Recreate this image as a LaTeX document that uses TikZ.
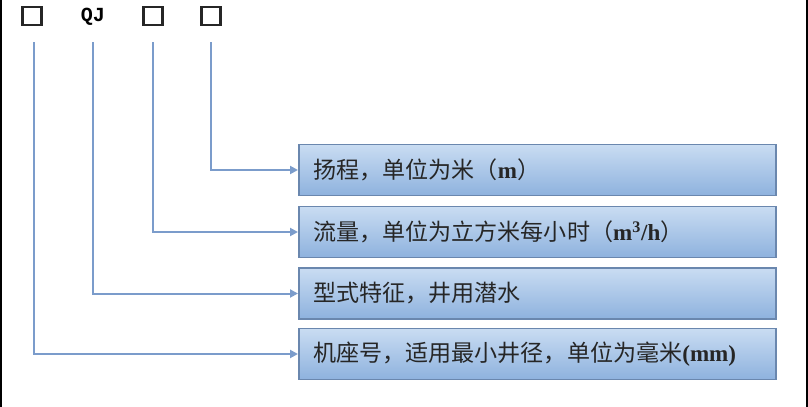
\documentclass[tikz,border=0pt]{standalone}
\usepackage{fontspec}
\setmainfont{Liberation Serif}
\newfontfamily\cjk{Noto Sans CJK SC}
\newfontfamily\codefont{Liberation Mono}
\usetikzlibrary{arrows.meta}
\definecolor{linec}{HTML}{7B9CCB}
\definecolor{boxtop}{HTML}{C9DCF2}
\definecolor{boxbot}{HTML}{8EB2DE}
\definecolor{boxedge}{HTML}{6A87AE}
\definecolor{txt}{HTML}{262626}
\newcommand{\latinb}[1]{{\rmfamily\bfseries #1}}
\tikzset{
  descbox/.style={draw=boxedge, line width=1.2pt, top color=boxtop, bottom color=boxbot,
    minimum width=358pt, minimum height=38pt, anchor=west, inner sep=0pt},
  desctext/.style={anchor=west, inner sep=0pt, text=txt, font=\cjk\fontsize{17.3pt}{19pt}\selectfont},
  conn/.style={draw=linec, line width=1.5pt, -{Triangle[length=6pt,width=6pt]}},
  code/.style={font=\codefont\fontsize{15pt}{16pt}\selectfont\bfseries, inner sep=0pt},
  sq/.style={draw=black!85, line width=1.8pt, minimum width=14.5pt, minimum height=13.5pt, inner sep=0pt}
}
\begin{document}
\begin{tikzpicture}[x=0.75pt,y=-0.75pt]
\useasboundingbox (0,0) rectangle (808,407);
\fill[white] (0,0) rectangle (808,407);
\draw[black, line width=1.5pt] (1,0) -- (1,407);
\draw[black, line width=1.5pt] (806.5,0) -- (806.5,407);
% top code
\node[sq] (s1) at (32,16) {};
\node[code] (qj) at (93,17) {QJ};
\node[sq] (s3) at (153,16) {};
\node[sq] (s4) at (211,16) {};
\coordinate (c1) at (34,42);
\coordinate (c2) at (93,42);
\coordinate (c3) at (153,42);
\coordinate (c4) at (211,42);
% boxes
\node[descbox] (b1) at (298,170) {};
\node[descbox] (b2) at (298,232) {};
\node[descbox] (b3) at (298,293.5) {};
\node[descbox] (b4) at (298,354) {};
\node[desctext] (t1) at (313,170) {扬程，单位为米（\latinb{m}）};
\node[desctext] (t2) at (313,232) {流量，单位为立方米每小时（\latinb{m\textsuperscript{3}/h}）};
\node[desctext] (t3) at (313,293.5) {型式特征，井用潜水};
\node[desctext] (t4) at (313,354) {机座号，适用最小井径，单位为毫米\latinb{(mm)}};
% connectors
\draw[conn] (c4) |- (b1.west);
\draw[conn] (c3) |- (b2.west);
\draw[conn] (c2) |- (b3.west);
\draw[conn] (c1) |- (b4.west);
\end{tikzpicture}
\end{document}
